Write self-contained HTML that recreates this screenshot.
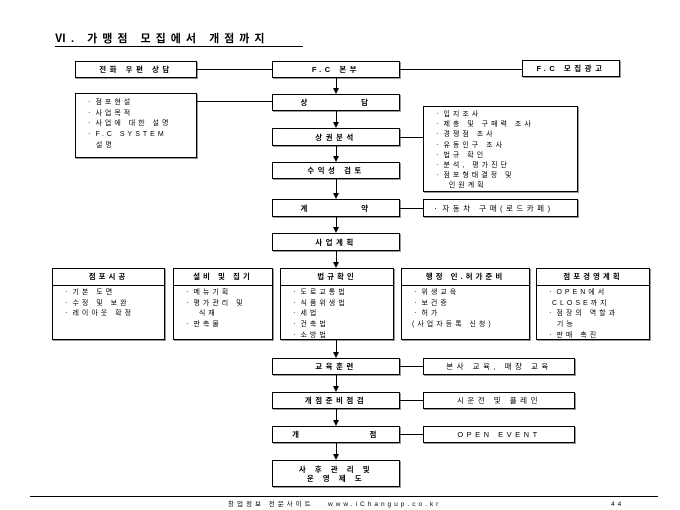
<!DOCTYPE html>
<html><head><meta charset="utf-8"><style>
body{margin:0;width:680px;height:510px;background:#fff;position:relative;overflow:hidden;font-family:"Liberation Sans","Noto Sans CJK KR","NanumGothic",sans-serif;color:#000}
.b{position:absolute;border:1px solid #000;box-sizing:border-box;background:#fff;font-size:7.5px;font-weight:bold;letter-spacing:3.5px;text-align:center;display:flex;align-items:center;justify-content:center;box-shadow:1px 1px 0 #999}
.h{position:absolute;height:1px;background:#000}
.v{position:absolute;width:1px;background:#000}
.ar{position:absolute;width:0;height:0;border-left:3px solid transparent;border-right:3px solid transparent;border-top:6px solid #000}
.list{position:absolute;border:1px solid #000;box-sizing:border-box;background:#fff;font-size:7px;letter-spacing:3px;line-height:10.7px;padding:4px 0 0 10px;box-shadow:1px 1px 0 #999}
.col{position:absolute;border:1px solid #000;box-sizing:border-box;top:268px;height:72px;font-size:7px;letter-spacing:3px;box-shadow:1px 1px 0 #999}
.col .hd{height:16px;border-bottom:1px solid #000;text-align:center;font-weight:bold;line-height:16px;font-size:7.5px}
.col .bd{padding:2px 0 0 10px;line-height:10.7px}
</style></head><body>
<div style="position:absolute;left:55px;top:33px;width:248px;font-size:11px;font-weight:bold;letter-spacing:5px;border-bottom:1px solid #000;line-height:13px;white-space:nowrap">Ⅵ. 가맹점 모집에서 개점까지</div>

<div class="b" style="left:75px;top:61px;width:122px;height:17px">전화 우편 상담</div>
<div class="b" style="left:272px;top:61px;width:128px;height:17px">F.C 본부</div>
<div class="b" style="left:522px;top:60px;width:98px;height:17px">F.C 모집광고</div>
<div class="h" style="left:197px;top:69px;width:75px"></div>
<div class="h" style="left:400px;top:69px;width:122px"></div>

<div class="list" style="left:75px;top:93px;width:122px;height:65px">ㆍ점포현설<br>ㆍ사업목적<br>ㆍ사업에 대한 설명<br>ㆍF.C SYSTEM<br>&nbsp;&nbsp;설명</div>
<div class="h" style="left:197px;top:101px;width:75px"></div>
<div class="b" style="left:272px;top:94px;width:128px;height:17px">상 &nbsp;&nbsp;&nbsp;&nbsp;&nbsp;&nbsp;&nbsp; 담</div>

<div class="list" style="left:423px;top:106px;width:155px;height:86px;line-height:10.2px;padding-top:3px">ㆍ입지조사<br>ㆍ제충 및 구매력 조사<br>ㆍ경쟁점 조사<br>ㆍ유동인구 조사<br>ㆍ법규 확인<br>ㆍ분석, 평가진단<br>ㆍ점포형태결정 및<br>&nbsp;&nbsp;&nbsp;인원계획</div>
<div class="b" style="left:272px;top:128px;width:128px;height:18px">상권분석</div>
<div class="h" style="left:400px;top:137px;width:23px"></div>
<div class="b" style="left:272px;top:162px;width:128px;height:17px">수익성 검토</div>
<div class="b" style="left:272px;top:199px;width:128px;height:18px">계 &nbsp;&nbsp;&nbsp;&nbsp;&nbsp;&nbsp;&nbsp; 약</div>
<div class="b" style="left:423px;top:199px;width:155px;height:18px;font-weight:normal;justify-content:flex-start;padding-left:8px">ㆍ자동차 구매(로드카페)</div>
<div class="h" style="left:400px;top:208px;width:23px"></div>
<div class="b" style="left:272px;top:233px;width:128px;height:18px">사업계획</div>

<div class="col" style="left:52px;width:113px"><div class="hd">점포시공</div><div class="bd">ㆍ기본 도면<br>ㆍ수정 및 보완<br>ㆍ레이아웃 확정</div></div>
<div class="col" style="left:173px;width:100px"><div class="hd">설비 및 집기</div><div class="bd">ㆍ메뉴기획<br>ㆍ평가관리 및<br>&nbsp;&nbsp;&nbsp;식재<br>ㆍ판촉물</div></div>
<div class="col" style="left:280px;width:114px"><div class="hd">법규확인</div><div class="bd">ㆍ도로교통법<br>ㆍ식품위생법<br>ㆍ세법<br>ㆍ건축법<br>ㆍ소방법</div></div>
<div class="col" style="left:401px;width:129px"><div class="hd">행정 인.허가준비</div><div class="bd">ㆍ위생교육<br>ㆍ보건증<br>ㆍ허가<br>(사업자등록 신청)</div></div>
<div class="col" style="left:536px;width:114px"><div class="hd">점포경영계획</div><div class="bd">ㆍOPEN에서<br>&nbsp;CLOSE까지<br>ㆍ점장의 역할과<br>&nbsp;&nbsp;기능<br>ㆍ판매 촉진</div></div>

<div class="b" style="left:272px;top:358px;width:128px;height:17px">교육훈련</div>
<div class="b" style="left:423px;top:358px;width:152px;height:17px;font-weight:normal">본사 교육, 매장 교육</div>
<div class="h" style="left:400px;top:366px;width:23px"></div>
<div class="b" style="left:272px;top:392px;width:128px;height:17px">개점준비점검</div>
<div class="b" style="left:423px;top:392px;width:152px;height:17px;font-weight:normal">시운전 및 플레인</div>
<div class="h" style="left:400px;top:400px;width:23px"></div>
<div class="b" style="left:272px;top:426px;width:128px;height:17px">개 &nbsp;&nbsp;&nbsp;&nbsp;&nbsp;&nbsp;&nbsp;&nbsp;&nbsp;&nbsp; 점</div>
<div class="b" style="left:423px;top:426px;width:152px;height:17px;font-weight:normal">OPEN EVENT</div>
<div class="h" style="left:400px;top:434px;width:23px"></div>
<div class="b" style="left:272px;top:460px;width:128px;height:27px;line-height:9px">사 후 관 리 및<br>운 영 제 도</div>

<div class="v" style="left:336px;top:78px;height:12px"></div><div class="ar" style="left:333px;top:88px"></div>
<div class="v" style="left:336px;top:111px;height:12px"></div><div class="ar" style="left:333px;top:122px"></div>
<div class="v" style="left:336px;top:146px;height:11px"></div><div class="ar" style="left:333px;top:156px"></div>
<div class="v" style="left:336px;top:179px;height:14px"></div><div class="ar" style="left:333px;top:193px"></div>
<div class="v" style="left:336px;top:217px;height:11px"></div><div class="ar" style="left:333px;top:227px"></div>
<div class="v" style="left:336px;top:251px;height:12px"></div><div class="ar" style="left:333px;top:262px"></div>
<div class="v" style="left:336px;top:340px;height:13px"></div><div class="ar" style="left:333px;top:352px"></div>
<div class="v" style="left:336px;top:375px;height:11px"></div><div class="ar" style="left:333px;top:386px"></div>
<div class="v" style="left:336px;top:409px;height:11px"></div><div class="ar" style="left:333px;top:420px"></div>
<div class="v" style="left:336px;top:443px;height:11px"></div><div class="ar" style="left:333px;top:454px"></div>

<div class="h" style="left:30px;top:496px;width:628px"></div>
<div style="position:absolute;left:228px;top:500px;font-size:6.5px;letter-spacing:3px;white-space:nowrap;line-height:9px">창업정보 전문사이트 &nbsp;&nbsp;www.iChangup.co.kr</div>
<div style="position:absolute;left:611px;top:500px;font-size:6.5px;letter-spacing:3px;line-height:9px">44</div>
</body></html>
